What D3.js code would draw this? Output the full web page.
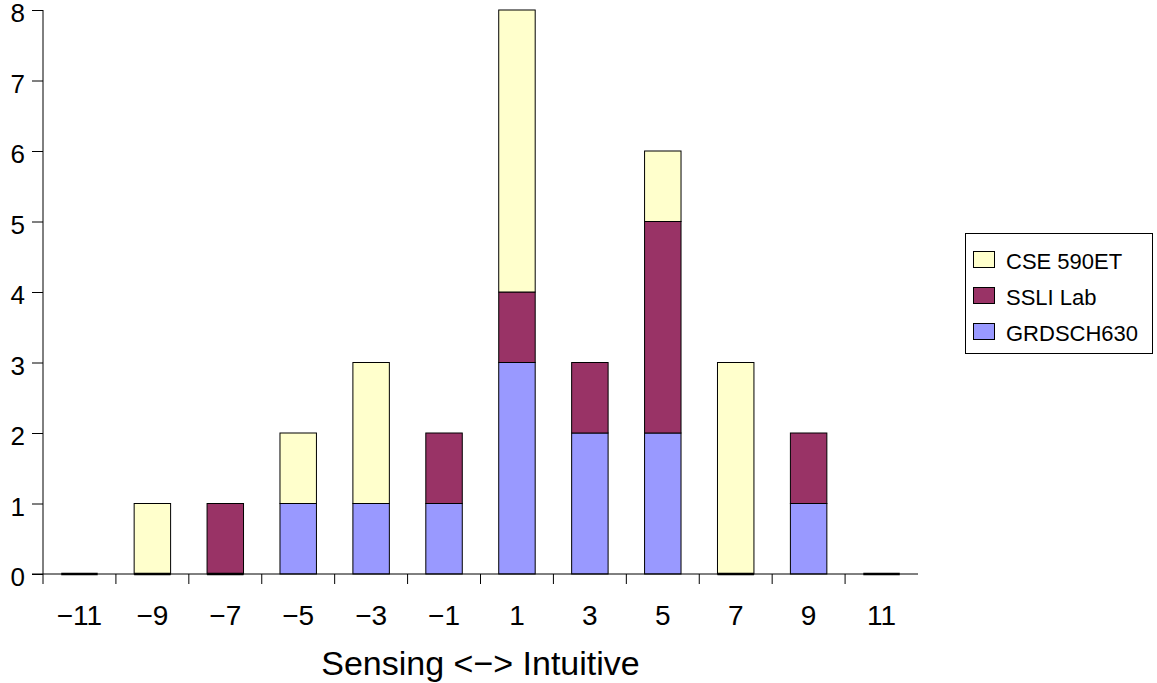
<!DOCTYPE html>
<html><head><meta charset="utf-8">
<script src="https://cdn.jsdelivr.net/npm/d3@7"></script>
<style>body{margin:0;background:#fff;}text{font-family:"Liberation Sans",Arial,sans-serif;}</style>
</head><body><svg id="c" width="1157" height="683"></svg>
<script>
const categories = ["−11","−9","−7","−5","−3","−1","1","3","5","7","9","11"];
const grdsch630 = [0,0,0,1,1,1,3,2,2,0,1,0];
const ssliLab   = [0,0,1,0,0,1,1,1,3,0,1,0];
const cse590et  = [0,1,0,1,2,0,4,0,1,3,0,0];
const seriesNames = ["GRDSCH630","SSLI Lab","CSE 590ET"];
const seriesColors = ["#9999FF","#993366","#FFFFCC"];
const yTicks = [0,1,2,3,4,5,6,7,8];

const svg = d3.select("#c");
const x = d3.scaleBand().domain(categories).range([43,918]).paddingInner(0.5).paddingOuter(0.25);
const xb = d3.scaleBand().domain(categories).range([43,918]);
const y = d3.scaleLinear().domain([0,8]).range([574,10]);

const rows = categories.map((c,i)=>({cat:c, g:grdsch630[i], s:ssliLab[i], e:cse590et[i]}));
const stack = d3.stack().keys(["g","s","e"])(rows);

stack.forEach((layer,li)=>{
  svg.append("g").selectAll("rect").data(layer.filter(d=>d[1]-d[0]>0)).join("rect")
    .attr("x",d=>x(d.data.cat)).attr("width",x.bandwidth())
    .attr("y",d=>y(d[1])).attr("height",d=>y(d[0])-y(d[1]))
    .attr("fill",seriesColors[li]).attr("stroke","#000").attr("stroke-width",1);
});
// zero-height bars of the bottom series appear as a line on the baseline
svg.append("g").selectAll("line").data(stack[0].filter(d=>d[1]-d[0]===0)).join("line")
  .attr("x1",d=>x(d.data.cat)).attr("x2",d=>x(d.data.cat)+x.bandwidth())
  .attr("y1",y(0)).attr("y2",y(0)).attr("stroke","#000").attr("stroke-width",2.5);

// y axis
const ya = svg.append("g").attr("transform","translate(43,0)")
  .call(d3.axisLeft(y).tickValues(yTicks).tickSize(11).tickPadding(7).tickFormat(d3.format("d")));
ya.select(".domain").attr("d","M0,10V584").attr("stroke","#000");
ya.selectAll("line").attr("stroke","#000");
ya.selectAll("text").attr("font-size",26).attr("dy","0.46em").attr("fill","#000");

// x axis
const xa = svg.append("g").attr("transform","translate(0,574)")
  .call(d3.axisBottom(xb).tickSize(0).tickPadding(31));
xa.select(".domain").attr("d","M32,0H918").attr("stroke","#000");
xa.selectAll("text").attr("font-size",28).attr("fill","#000");
svg.append("g").selectAll("line").data(categories.slice(1)).join("line")
  .attr("x1",d=>xb(d)).attr("x2",d=>xb(d)).attr("y1",574).attr("y2",584).attr("stroke","#000");

svg.append("text").attr("x",480.5).attr("y",675).attr("text-anchor","middle")
  .attr("font-size",34).text("Sensing <−> Intuitive");

// legend
const lg = svg.append("g");
lg.append("rect").attr("x",965.5).attr("y",233.5).attr("width",187).attr("height",120)
  .attr("fill","#fff").attr("stroke","#000");
const legOrder = [2,1,0];
legOrder.forEach((si,k)=>{
  const cy = 261 + k*36;
  lg.append("rect").attr("x",973.5).attr("y",cy-9.5).attr("width",21).attr("height",16)
    .attr("fill",seriesColors[si]).attr("stroke","#000");
  lg.append("text").attr("x",1006).attr("y",cy+7.5).attr("font-size",22).text(seriesNames[si]);
});
</script></body></html>
